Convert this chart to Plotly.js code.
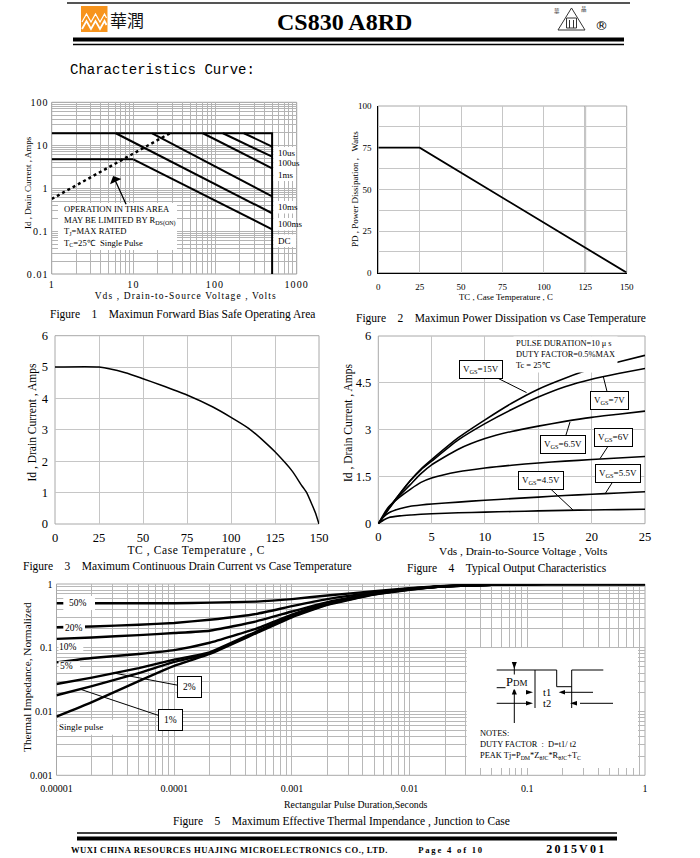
<!DOCTYPE html>
<html><head><meta charset="utf-8">
<script src="https://cdn.plot.ly/plotly-3.0.1.min.js"></script>
<style>
html,body{margin:0;padding:0;background:#fff;}
#page{width:700px;height:858px;}
.xtick text,.ytick text{letter-spacing:1.1px;}
</style></head>
<body><div id="page"></div>
<script>
// ================= DATA =================
// Figure 1 : Safe operating area
const soaXTickVals = [1, 10, 100, 1000];
const soaXTickText = ['1', '10', '100', '1000'];
const soaYTickVals = [0.01, 0.1, 1, 10, 100];
const soaYTickText = ['0.01', '0.1', '1', '10', '100'];
const soaEnvV = [1, 500, 500];
const soaEnvI = [19, 19, 0.01];
const soaShelfV = [1, 10];
const soaShelfI = [4.7, 4.7];
const soaLineNames = ['10us', '100us', '1ms', '10ms', '100ms', 'DC'];
const soaStartV = [226, 125, 71, 17, 6.1, 10];
const soaStartI = [19, 19, 19, 19, 19, 4.7];
const soaEndV = [500, 500, 500, 500, 500, 500];
const soaEndI = [9.3, 5.4, 2.9, 0.64, 0.26, 0.11];
const rdsV = [1, 28];
const rdsI = [0.56, 19];

// Figure 2 : power dissipation
const pdTemp = [0, 25, 150];
const pdPower = [75, 75, 0];
const pdXTicks = [0, 25, 50, 75, 100, 125, 150];
const pdYTicks = [0, 25, 50, 75, 100];

// Figure 3 : continuous drain current
const idTemp = [0, 25, 40, 50, 60, 75, 90, 100, 110, 120, 125, 135, 140, 143, 146, 148, 150];
const idCurr = [5, 5, 4.82, 4.63, 4.43, 4.11, 3.72, 3.40, 3.05, 2.57, 2.30, 1.67, 1.24, 1.0, 0.62, 0.35, 0];
const idXTicks = [0, 25, 50, 75, 100, 125, 150];
const idYTicks = [0, 1, 2, 3, 4, 5, 6];

// Figure 4 : output characteristics
const vds = [0, 0.5, 1, 2, 3, 4, 5, 7.5, 10, 12.5, 15, 17.5, 20, 22.5, 25];
const id15V  = [0, 0.25, 0.5, 0.95, 1.38, 1.75, 2.05, 2.75, 3.32, 3.85, 4.30, 4.65, 4.95, 5.17, 5.38];
const id7V   = [0, 0.25, 0.5, 0.95, 1.37, 1.72, 2.00, 2.68, 3.20, 3.65, 4.05, 4.38, 4.62, 4.80, 4.96];
const id65V  = [0, 0.24, 0.48, 0.90, 1.25, 1.60, 1.88, 2.38, 2.72, 2.95, 3.12, 3.27, 3.40, 3.50, 3.60];
const id6V   = [0, 0.30, 0.55, 0.85, 1.10, 1.32, 1.46, 1.66, 1.78, 1.87, 1.94, 2.00, 2.05, 2.10, 2.15];
const id55V  = [0, 0.22, 0.35, 0.48, 0.56, 0.60, 0.63, 0.69, 0.75, 0.80, 0.85, 0.90, 0.94, 0.98, 1.02];
const id45V  = [0, 0.12, 0.20, 0.25, 0.28, 0.30, 0.32, 0.35, 0.37, 0.39, 0.41, 0.425, 0.44, 0.45, 0.46];
const outXTicks = [0, 5, 10, 15, 20, 25];
const outYTicks = [0, 1.5, 3, 4.5, 6];
const outYTickText = ['0', '1.5', '3', '4.5', '6'];

// Figure 5 : transient thermal impedance
const tp = [1e-5, 2e-5, 5e-5, 1e-4, 2e-4, 5e-4, 1e-3, 2e-3, 5e-3, 1e-2, 2e-2, 5e-2, 0.1, 0.2, 0.5, 1];
const z50  = [0.50, 0.50, 0.50, 0.50, 0.51, 0.53, 0.58, 0.66, 0.77, 0.86, 0.93, 0.97, 0.99, 1.0, 1.0, 1.0];
const z20  = [0.21, 0.215, 0.23, 0.245, 0.275, 0.34, 0.45, 0.58, 0.74, 0.85, 0.92, 0.97, 0.99, 1.0, 1.0, 1.0];
const z10  = [0.138, 0.145, 0.158, 0.17, 0.185, 0.26, 0.37, 0.52, 0.72, 0.84, 0.92, 0.97, 0.99, 1.0, 1.0, 1.0];
const z5   = [0.059, 0.069, 0.08, 0.092, 0.12, 0.20, 0.33, 0.50, 0.71, 0.83, 0.92, 0.97, 0.99, 1.0, 1.0, 1.0];
const z2   = [0.027, 0.034, 0.048, 0.065, 0.085, 0.18, 0.32, 0.49, 0.70, 0.83, 0.92, 0.97, 0.99, 1.0, 1.0, 1.0];
const z1   = [0.018, 0.025, 0.040, 0.060, 0.082, 0.175, 0.31, 0.48, 0.69, 0.82, 0.92, 0.97, 0.99, 1.0, 1.0, 1.0];
const zSingle = [0.0083, 0.014, 0.030, 0.052, 0.080, 0.17, 0.30, 0.47, 0.68, 0.81, 0.92, 0.97, 0.99, 1.0, 1.0, 1.0];
const thXTickVals = [1e-5, 1e-4, 1e-3, 1e-2, 0.1, 1];
const thXTickText = ['0.00001', '0.0001', '0.001', '0.01', '0.1', '1'];
const thYTickVals = [0.001, 0.01, 0.1, 1];
const thYTickText = ['0.001', '0.01', '0.1', '1'];

// ================= HELPERS =================
const W = 700, H = 858;
const px = v => v / W;
const py = v => 1 - v / H;
const FONT = 'Liberation Serif, Times New Roman, serif';
const ann = [], shp = [], spaced = [];

function T(x, y, text, size, o) {
  ann.push(Object.assign({xref: 'paper', yref: 'paper', x: px(x), y: py(y), text: text, showarrow: false,
    font: {family: FONT, size: size, color: '#000'}, xanchor: 'center', yanchor: 'middle'}, o || {}));
  return ann.length - 1;
}
function L(x0, y0, x1, y1, w, c) {
  shp.push({type: 'line', xref: 'paper', yref: 'paper', x0: px(x0), y0: py(y0), x1: px(x1), y1: py(y1),
    line: {width: w, color: c || '#000'}, layer: 'above'});
}
function R(x0, y0, x1, y1, fill, lc, lw) {
  shp.push({type: 'rect', xref: 'paper', yref: 'paper', x0: px(x0), y0: py(y0), x1: px(x1), y1: py(y1),
    fillcolor: fill, line: {width: lw || 0, color: lc || 'rgba(0,0,0,0)'}, layer: 'above'});
}
function P(points, fill, lc, lw) {
  const d = points.map((p, i) => (i ? 'L' : 'M') + px(p[0]).toFixed(5) + ',' + py(p[1]).toFixed(5)).join(' ') + (fill ? ' Z' : '');
  shp.push({type: 'path', xref: 'paper', yref: 'paper', path: d, fillcolor: fill || 'rgba(0,0,0,0)',
    line: {width: lw || 0, color: lc || 'rgba(0,0,0,0)'}, layer: 'above'});
}
function frame(n, c) {
  shp.push({type: 'rect', xref: 'x' + n + ' domain', yref: 'y' + n + ' domain', x0: 0, x1: 1, y0: 0, y1: 1,
    line: {width: 1, color: c || '#a8a8a8'}, layer: 'below'});
}
function logGrid(lo, hi) {
  const v = [];
  for (let e = lo; e < hi; e++) for (let m = 2; m < 10; m++) v.push(m * Math.pow(10, e));
  return v;
}
function ax(domain, o) {
  return Object.assign({domain: domain, showgrid: true, gridcolor: '#c6c6c6', gridwidth: 1, zeroline: false,
    showline: false, ticks: '', tickmode: 'array', fixedrange: true, tickfont: {family: FONT, size: 10, color: '#000'}}, o);
}
const NB = '\u00a0\u00a0\u00a0\u00a0';

// ================= TRACES =================
const traces = [];
const line = (w, dash) => ({color: '#000', width: w, dash: dash || 'solid'});
// Fig 1
traces.push({x: soaEnvV, y: soaEnvI, mode: 'lines', line: line(2), xaxis: 'x', yaxis: 'y'});
traces.push({x: soaShelfV, y: soaShelfI, mode: 'lines', line: line(2), xaxis: 'x', yaxis: 'y'});
soaLineNames.forEach((n, i) => traces.push({x: [soaStartV[i], soaEndV[i]], y: [soaStartI[i], soaEndI[i]],
  mode: 'lines', name: n, line: line(2), xaxis: 'x', yaxis: 'y'}));
traces.push({x: rdsV, y: rdsI, mode: 'lines', line: line(2.5, 'dot'), xaxis: 'x', yaxis: 'y'});
// Fig 2
traces.push({x: pdTemp, y: pdPower, mode: 'lines', line: line(1.8), xaxis: 'x2', yaxis: 'y2'});
// Fig 3
traces.push({x: idTemp, y: idCurr, mode: 'lines', line: Object.assign(line(1.5), {shape: 'spline', smoothing: 0.5}), xaxis: 'x3', yaxis: 'y3'});
// Fig 4
[id15V, id7V, id65V, id6V, id55V, id45V].forEach(s => traces.push({x: vds, y: s, mode: 'lines',
  line: Object.assign(line(1.6), {shape: 'spline', smoothing: 0.6}), xaxis: 'x4', yaxis: 'y4'}));
// Fig 5
[z50, z20, z10, z5, z2, z1, zSingle].forEach(s => traces.push({x: tp, y: s, mode: 'lines',
  line: Object.assign(line(2.4), {shape: 'spline', smoothing: 0.4}), xaxis: 'x5', yaxis: 'y5'}));

// ================= AXES =================
const minorLog = (vals, c) => ({tickmode: 'array', tickvals: vals, showgrid: true, gridcolor: c, gridwidth: 1, ticks: ''});

const layout = {
  width: W, height: H, margin: {l: 0, r: 0, t: 0, b: 0}, paper_bgcolor: '#fff', plot_bgcolor: '#fff', showlegend: false,
  xaxis: ax([px(51.7), px(296.7)], {anchor: 'y', type: 'log', range: [0, 3], tickvals: soaXTickVals,
    ticktext: soaXTickText, gridcolor: '#b4b4b4', minor: minorLog(logGrid(0, 3), '#b4b4b4'), ticklabelstandoff: 3}),
  yaxis: ax([py(274), py(102.3)], {anchor: 'x', type: 'log', range: [-2, 2], tickvals: soaYTickVals,
    ticktext: soaYTickText, gridcolor: '#b4b4b4', minor: minorLog(logGrid(-2, 2), '#b4b4b4'), ticklabelstandoff: 2}),
  xaxis2: ax([px(378.3), px(626.7)], {anchor: 'y2', range: [0, 150], tickvals: pdXTicks, ticktext: pdXTicks.map(String),
    tickfont: {family: FONT, size: 9, color: '#000'}, showline: true, linecolor: '#000', ticklabelstandoff: 5}),
  yaxis2: ax([py(272.7), py(106)], {anchor: 'x2', range: [0, 100], tickvals: pdYTicks,
    ticktext: pdYTicks.map(String), tickfont: {family: FONT, size: 9, color: '#000'},
    minor: {tickmode: 'linear', tick0: 0, dtick: 12.5, showgrid: true, gridcolor: '#c6c6c6', ticks: ''},
    showline: true, linecolor: '#000', ticklabelstandoff: 4}),
  xaxis3: ax([px(55), px(319)], {anchor: 'y3', range: [0, 150], tickvals: idXTicks, ticktext: idXTicks.map(String),
    tickfont: {family: FONT, size: 12.5, color: '#000'}, ticklabelstandoff: 4}),
  yaxis3: ax([py(524), py(335.7)], {anchor: 'x3', range: [0, 6], tickvals: idYTicks, ticktext: idYTicks.map(String),
    tickfont: {family: FONT, size: 12.5, color: '#000'}, ticklabelstandoff: 6}),
  xaxis4: ax([px(378.3), px(645)], {anchor: 'y4', range: [0, 25], tickvals: outXTicks, ticktext: outXTicks.map(String),
    tickfont: {family: FONT, size: 12.5, color: '#000'}, ticklabelstandoff: 4}),
  yaxis4: ax([py(523.7), py(336)], {anchor: 'x4', range: [0, 6], tickvals: outYTicks, ticktext: outYTickText,
    tickfont: {family: FONT, size: 12.5, color: '#000'}, ticklabelstandoff: 6}),
  xaxis5: ax([px(56.5), px(645)], {anchor: 'y5', type: 'log', range: [-5, 0], tickvals: thXTickVals,
    ticktext: thXTickText, gridcolor: '#b8b8b8', minor: minorLog(logGrid(-5, 0), '#b8b8b8'), ticklabelstandoff: 6}),
  yaxis5: ax([py(775.3), py(584)], {anchor: 'x5', type: 'log', range: [-3, 0], tickvals: thYTickVals,
    ticktext: thYTickText, gridcolor: '#b8b8b8', minor: minorLog(logGrid(-3, 0), '#b8b8b8'), ticklabelstandoff: 3}),
  shapes: shp, annotations: ann
};
[2, 3, 4, 5].forEach(n => frame(n));
shp.push({type: 'rect', xref: 'x domain', yref: 'y domain', x0: 0, x1: 1, y0: 0, y1: 1, line: {width: 1, color: '#999'}, layer: 'below'});
shp.push({type: 'line', xref: 'x2', yref: 'y2 domain', x0: 125, x1: 125, y0: 0, y1: 1, line: {width: 1.6, color: '#8a8a8a'}, layer: 'below'});

// ================= HEADER =================
L(67, 3, 630, 3, 2, '#555');
R(81, 6, 107.5, 32, '#f7941d');
P([[82, 29], [86.5, 21], [91, 29], [95.5, 21], [100, 29], [104.5, 21], [106.5, 25]], null, '#fff', 1.8);
P([[82, 22], [86.5, 14], [91, 22], [95.5, 14], [100, 22], [104.5, 14], [106.5, 18]], null, '#fff', 1.2);
T(127, 20, '華潤', 17, {font: {family: 'Noto Sans CJK TC', size: 17, color: '#111'}});
T(344, 22, '<b>CS830 A8RD</b>', 24);
P([[558, 30], [571.5, 8], [585, 30]], 'rgba(0,0,0,0)', '#333', 1);
R(566.5, 18, 576.5, 28, 'rgba(0,0,0,0)', '#333', 1);
L(569.5, 20, 569.5, 28, 1, '#333'); L(573.5, 20, 573.5, 28, 1, '#333');
T(557, 11, '華', 5.5, {font: {family: 'Noto Sans CJK TC', size: 5.5, color: '#333'}});
T(584, 9, '晶', 5.5, {font: {family: 'Noto Sans CJK TC', size: 5.5, color: '#333'}});
T(601, 26, '®', 14, {font: {family: 'DejaVu Sans', size: 13, color: '#000'}});
L(73, 39.5, 624, 39.5, 4);
L(73, 44.5, 624, 44.5, 1.4);
T(68, 70, 'Characteristics Curve:', 14, {xanchor: 'left', font: {family: 'Liberation Mono', size: 14, color: '#000'}});

// ================= FIG 1 TEXT =================
R(58, 203, 177, 250, '#fff');
T(61.5, 226, 'OPERATION IN THIS AREA<br>MAY BE LIMITED BY R<sub>DS(ON)</sub><br>T<sub>J</sub>=MAX RATED<br>T<sub>C</sub>=25\u2103  Single Pulse', 8.6,
  {xanchor: 'left', align: 'left'});
ann.push({xref: 'x', yref: 'y', x: Math.log10(5.65), y: Math.log10(1.93), axref: 'x', ayref: 'y',
  ax: Math.log10(8.3), ay: Math.log10(0.39), text: '', showarrow: true, arrowhead: 1, arrowsize: 1.6,
  arrowwidth: 1.3, arrowcolor: '#000', standoff: 0, startstandoff: 0});
const soaLabelY = [152.7, 163.3, 175, 207.3, 224, 240.7];
R(273.5, 147, 296, 181, '#fff'); R(273.5, 201, 296, 213.5, '#fff'); R(273.5, 218, 296, 230.5, '#fff'); R(273.5, 234.5, 296, 247, '#fff');
soaLineNames.forEach((n, i) => T(275.5, soaLabelY[i], n, 9, {xanchor: 'left'}));
spaced.push([T(186, 295.5, 'Vds , Drain-to-Source Voltage , Volts', 9.5), '1.1px']);
T(28, 183, 'Id , Drain Current , Amps', 9, {textangle: -90});
T(182.5, 315, 'Figure' + NB + '1' + NB + 'Maximun Forward Bias Safe Operating Area', 11.5);

// ================= FIG 2 TEXT =================
T(505.5, 297, 'TC , Case Temperature , C', 8.8);
T(355, 189, 'PD , Power Dissipation ,\u00a0\u00a0 Watts', 9, {textangle: -90});
T(501, 318, 'Figure' + NB + '2' + NB + 'Maximun Power Dissipation vs Case Temperature', 11.5);

// ================= FIG 3 TEXT =================
spaced.push([T(196, 550.5, 'TC , Case Temperature , C', 11.5), '0.6px']);
T(32, 422.5, 'Id , Drain Current , Amps', 11.5, {textangle: -90});
T(187, 566.5, 'Figure' + NB + '3' + NB + 'Maximum Continuous Drain Current vs Case Temperature', 11.5);

// ================= FIG 4 TEXT =================
T(513, 355, 'PULSE DURATION=10 \u03bc s<br>DUTY FACTOR=0.5%MAX<br>Tc = 25\u2103', 8.4,
  {xanchor: 'left', align: 'left', bgcolor: '#fff', borderpad: 2});
const callouts4 = [
  ['V<sub>GS</sub>=15V', 13.9, 4.19, -46, -23],
  ['V<sub>GS</sub>=7V', 21.1, 4.69, 6, 24],
  ['V<sub>GS</sub>=6.5V', 17.97, 3.25, -7, 22.5],
  ['V<sub>GS</sub>=6V', 20.78, 2.08, 14, -21.5],
  ['V<sub>GS</sub>=5.5V', 21.25, 0.95, 13, -20.5],
  ['V<sub>GS</sub>=4.5V', 18.28, 0.43, -32, -30]
];
callouts4.forEach(c => ann.push({xref: 'x4', yref: 'y4', x: c[1], y: c[2], ax: c[3], ay: c[4], text: c[0],
  showarrow: true, arrowhead: 0, arrowwidth: 1, arrowcolor: '#000', standoff: 0,
  font: {family: FONT, size: 9, color: '#000'}, bgcolor: '#fff', bordercolor: '#000', borderwidth: 1, borderpad: 3}));
T(522.5, 550.5, 'Vds , Drain-to-Source Voltage , Volts', 11.3);
T(348, 423, 'Id , Drain Current , Amps', 11.5, {textangle: -90});
T(507, 568, 'Figure' + NB + '4' + NB + 'Typical Output Characteristics', 11.5);

// ================= FIG 5 TEXT =================
R(63.3, 596, 95, 610, '#fff'); T(77.5, 603, '50%', 9.5);
R(63.3, 621.5, 85, 633.5, '#fff'); T(73.5, 628, '20%', 9.5);
R(58.5, 641.3, 83.3, 653, '#fff'); T(67.5, 646.5, '10%', 9.5);
R(58.5, 661.3, 80, 671.3, '#fff'); T(66.5, 666, '5%', 9.5);
R(57.5, 719.7, 126.7, 734.7, '#fff'); T(81, 726.5, 'Single pulse', 9);
ann.push({xref: 'x5', yref: 'y5', x: Math.log10(3.04e-5), y: Math.log10(0.0403), ax: 76, ay: 14.5, text: '2%',
  showarrow: true, arrowhead: 0, arrowwidth: 1, arrowcolor: '#000', standoff: 0,
  font: {family: FONT, size: 9.5, color: '#000'}, bgcolor: '#fff', bordercolor: '#000', borderwidth: 1, borderpad: 5});
ann.push({xref: 'x5', yref: 'y5', x: Math.log10(1.58e-5), y: Math.log10(0.0225), ax: 91, ay: 30.5, text: '1%',
  showarrow: true, arrowhead: 0, arrowwidth: 1, arrowcolor: '#000', standoff: 0,
  font: {family: FONT, size: 9.5, color: '#000'}, bgcolor: '#fff', bordercolor: '#000', borderwidth: 1, borderpad: 5});
// notes inset
R(466.7, 648, 638, 768, '#fff');
L(514.3, 663, 514.3, 723, 1);
P([[511.8, 662], [516.8, 662], [514.3, 669]], '#000');
P([[511.8, 694.5], [516.8, 694.5], [514.3, 688]], '#000');
L(496.7, 670, 556.7, 670, 1);
L(496.7, 687.7, 512, 687.7, 1);
L(535, 670, 535, 708, 1);
L(556.7, 670, 556.7, 686.7, 1);
L(556.7, 686.7, 571.7, 686.7, 1);
L(571.7, 670, 571.7, 708, 1);
L(571.7, 670, 603.3, 670, 1);
P([[526, 690], [526, 694.6], [533, 692.3]], '#000');
P([[565, 690], [565, 694.6], [558.7, 692.3]], '#000');
L(565, 692.3, 593, 692.3, 1);
P([[526, 701], [526, 705.6], [533, 703.3]], '#000');
P([[577, 701], [577, 705.6], [570, 703.3]], '#000');
L(496.7, 703.3, 526, 703.3, 1);
L(580, 703.3, 613, 703.3, 1);
T(516, 681.5, 'P<span style="font-size:9px">DM</span>', 12.5, {bgcolor: '#fff', borderpad: 0});
T(546.7, 692.3, 't1', 10.5);
T(546.7, 703.3, 't2', 10.5);
T(478, 745, 'NOTES:<br>DUTY FACTOR\u00a0 :\u00a0 D=t1/ t2<br>PEAK Tj=P<sub>DM</sub>*Z<sub>\u03b8JC</sub>*R<sub>\u03b8JC</sub>+T<sub>C</sub>', 8.4,
  {xanchor: 'left', align: 'left'});
T(356.5, 804, 'Rectangular Pulse Duration,Seconds', 9.8);
T(27, 677, 'Thermal Impedance, Normalized', 11.3, {textangle: -90});
T(341, 821, 'Figure' + NB + '5' + NB + 'Maximum Effective Thermal Impendance , Junction to Case', 11.5);

// ================= FOOTER =================
L(77, 833, 617, 833, 1.5);
L(77, 838.5, 617, 838.5, 4);
spaced.push([T(84, 849.5, '<b>WUXI CHINA RESOURCES HUAJING MICROELECTRONICS CO., LTD.</b>', 8.6, {xanchor: 'left'}), '0.55px']);
spaced.push([T(427, 849.5, '<b>Page 4 of 10</b>', 8.6, {xanchor: 'left'}), '1.8px']);
spaced.push([T(552, 849, '<b>2015V01</b>', 12, {xanchor: 'left'}), '2.2px']);

Plotly.newPlot('page', traces, layout, {staticPlot: true, displayModeBar: false}).then(() => {
  const nodes = document.querySelectorAll('.annotation');
  spaced.forEach(([idx, ls]) => {
    nodes.forEach(n => {
      if (n.getAttribute('data-index') === String(idx)) n.querySelectorAll('text').forEach(t => t.style.letterSpacing = ls);
    });
  });
});
</script>
</body></html>
